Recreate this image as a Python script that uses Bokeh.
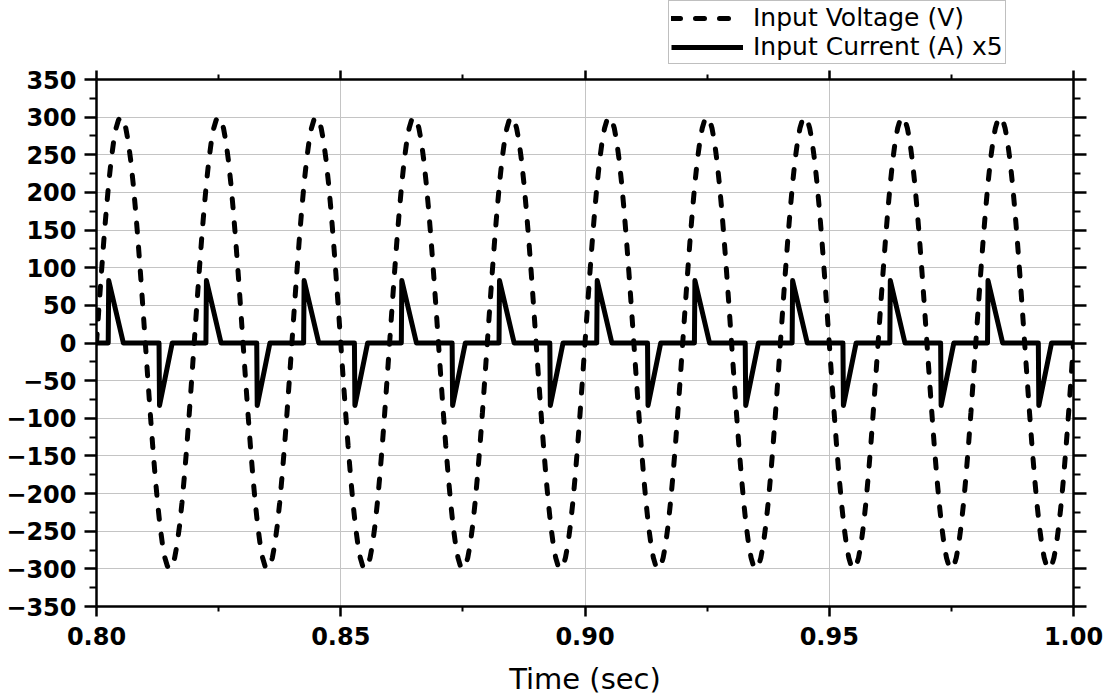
from bokeh.plotting import figure
from bokeh.layouts import column
from bokeh.models import (Range1d, LinearAxis, FixedTicker, Legend, LegendItem,
                          ColumnDataSource, PrintfTickFormatter)
from bokeh.embed import file_html
from bokeh.resources import INLINE

# ---------------- data ----------------
cycle_starts = [0.80, 0.82, 0.84, 0.86, 0.88, 0.90, 0.92, 0.94, 0.96, 0.98]
end_time = 1.00

# one 20 ms mains cycle of the input voltage, sampled every 0.5 ms (V)
v_step = 0.0005
v_cycle = [0.0, 46.9, 92.7, 136.2, 176.3, 212.1, 242.7, 267.3, 285.3, 296.3,
           300.0, 296.3, 285.3, 267.3, 242.7, 212.1, 176.3, 136.2, 92.7, 46.9,
           0.0, -46.9, -92.7, -136.2, -176.3, -212.1, -242.7, -267.3, -285.3, -296.3,
           -300.0, -296.3, -285.3, -267.3, -242.7, -212.1, -176.3, -136.2, -92.7, -46.9]

# one cycle of the input current pulses (x5), breakpoints in seconds after the cycle start
i_offsets = [0.0, 0.0024, 0.0025, 0.0055, 0.0128, 0.0129, 0.0155]
i_cycle = [0.0, 0.0, 83.0, 0.0, 0.0, -83.0, 0.0]

x_ticks = [0.80, 0.85, 0.90, 0.95, 1.00]
x_minor = [0.825, 0.875, 0.925, 0.975]
y_ticks = [-350, -300, -250, -200, -150, -100, -50, 0, 50, 100, 150, 200, 250, 300, 350]
y_minor = [-325, -275, -225, -175, -125, -75, -25, 25, 75, 125, 175, 225, 275, 325]

labels = ["Input Voltage (V)", "Input Current (A) x5"]

# ---------------- build series ----------------
vt, vv = [], []
for s in cycle_starts:
    for k, val in enumerate(v_cycle):
        vt.append(s + k * v_step)
        vv.append(val)
vt.append(end_time); vv.append(0.0)

it, iv = [], []
for s in cycle_starts:
    for off, val in zip(i_offsets, i_cycle):
        it.append(s + off)
        iv.append(val)
it.append(end_time); iv.append(0.0)

src_v = ColumnDataSource(dict(t=vt, v=vv))
src_i = ColumnDataSource(dict(t=it, i=iv))

FONT = "DejaVu Sans"
V_STYLE = dict(line_color="black", line_width=5, line_dash="9 15", line_cap="round")
I_STYLE = dict(line_color="black", line_width=5, line_join="round")

# ---------------- main plot ----------------
p = figure(width=1114, height=634, x_range=Range1d(0.8, 1.0), y_range=Range1d(-350, 350),
           output_backend="svg", toolbar_location=None,
           min_border_left=96, min_border_right=41, min_border_top=15, min_border_bottom=90)
p.background_fill_color = "white"
p.border_fill_color = "white"
p.outline_line_color = None

p.line("t", "v", source=src_v, **V_STYLE)
p.line("t", "i", source=src_i, **I_STYLE)

xt = FixedTicker(ticks=x_ticks, minor_ticks=x_minor)
yt = FixedTicker(ticks=y_ticks, minor_ticks=y_minor)

def style(ax, show_labels, major, minor):
    ax.axis_line_color = "black"
    ax.axis_line_width = 2.5
    ax.major_tick_line_color = "black"
    ax.major_tick_line_width = 2.5
    ax.minor_tick_line_color = "black"
    ax.minor_tick_line_width = 2
    ax.major_tick_in = 0
    ax.major_tick_out = major
    ax.minor_tick_in = 0
    ax.minor_tick_out = minor
    if show_labels:
        ax.major_label_text_font = FONT
        ax.major_label_text_font_style = "bold"
        ax.major_label_text_font_size = "24px"
        ax.major_label_text_color = "black"
    else:
        ax.major_label_text_font_size = "0px"
        ax.major_label_text_color = None
        ax.major_label_standoff = 0

xa = p.xaxis[0]
xa.ticker = xt
xa.formatter = PrintfTickFormatter(format="%.2f")
style(xa, True, 10, 5)
xa.major_label_standoff = 10
xa.axis_label = "Time (sec)"
xa.axis_label_text_font = FONT
xa.axis_label_text_font_style = "normal"
xa.axis_label_text_font_size = "29px"
xa.axis_label_text_color = "black"
xa.axis_label_standoff = 14

ya = p.yaxis[0]
ya.ticker = yt
style(ya, True, 12, 7)
ya.major_label_standoff = 8

top = LinearAxis(ticker=xt)
style(top, False, 9, 5)
p.add_layout(top, "above")

right = LinearAxis(ticker=yt)
style(right, False, 13, 7)
p.add_layout(right, "right")

p.xgrid.ticker = xt
p.ygrid.ticker = yt
p.xgrid.grid_line_color = "#c4c4c4"
p.ygrid.grid_line_color = "#c4c4c4"
p.xgrid.grid_line_width = 1
p.ygrid.grid_line_width = 1

# ---------------- legend strip above the plot ----------------
lg = figure(width=1114, height=64, x_range=Range1d(10, 11), y_range=Range1d(10, 11),
            output_backend="svg", toolbar_location=None,
            x_axis_location=None, y_axis_location=None,
            min_border_left=0, min_border_right=0, min_border_top=0, min_border_bottom=0)
lg.grid.visible = False
lg.outline_line_color = None
lg.background_fill_color = "white"
lg.border_fill_color = "white"
lv = lg.line("t", "v", source=src_v, **V_STYLE)
li = lg.line("t", "i", source=src_i, **I_STYLE)

legend = Legend(items=[LegendItem(label=labels[0], renderers=[lv]),
                       LegendItem(label=labels[1], renderers=[li])],
                location=(572, 0))
legend.label_text_font = FONT
legend.label_text_font_size = "25px"
legend.label_text_color = "black"
legend.glyph_width = 72
legend.glyph_height = 28
legend.label_height = 28
legend.label_standoff = 10
legend.spacing = 0
legend.padding = 2
legend.margin = 0
legend.border_line_color = "#808080"
legend.border_line_width = 1.5
legend.background_fill_color = "white"
legend.background_fill_alpha = 1
lg.add_layout(legend, "center")

layout = column(lg, p, spacing=0)
open("out.html", "w").write(file_html(layout, INLINE))
